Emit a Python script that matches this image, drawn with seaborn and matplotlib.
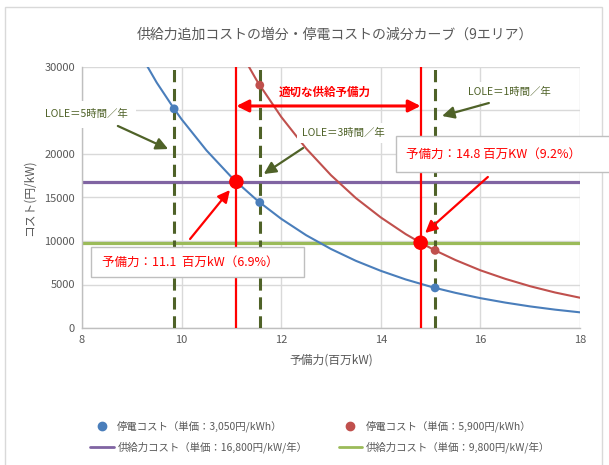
import matplotlib
matplotlib.use("Agg")
import matplotlib.pyplot as plt
from matplotlib.lines import Line2D
from matplotlib.patches import Rectangle
import seaborn as sns
import pandas as pd

# Outage-cost curves (reserve margin in GW vs. cost in yen/kW)
blue_x = [9.0, 9.5, 9.85, 10.0, 10.5, 11.0, 11.1, 11.5, 11.57, 12.0, 12.5, 13.0, 13.5,
          14.0, 14.5, 15.0, 15.09, 15.5, 16.0, 16.5, 17.0, 17.5, 18.0]
blue_cost = [33170, 28210, 25190, 23990, 20410, 17350, 16800, 14760, 14430, 12550, 10670,
             9080, 7720, 6570, 5580, 4750, 4610, 4040, 3430, 2920, 2480, 2110, 1800]
red_x = [11.0, 11.5, 11.57, 12.0, 12.5, 13.0, 13.5, 14.0, 14.5, 14.8, 15.0, 15.09, 15.5,
         16.0, 16.5, 17.0, 17.5, 18.0]
red_cost = [33560, 28540, 27910, 24270, 20640, 17560, 14930, 12710, 10790, 9800, 9190,
            8920, 7810, 6630, 5650, 4800, 4080, 3480]

# LOLE reference points
lole_x = [9.85, 11.57, 15.09]
lole_labels = ["LOLE＝5時間／年", "LOLE＝3時間／年", "LOLE＝1時間／年"]
lole_blue = [25190, 14430, 4610]
lole_red_x = [11.57, 15.09]
lole_red = [27910, 8920]

# Supply-cost levels and optimal reserve points
supply_costs = [16800, 9800]
optimal_x = [11.1, 14.8]
optimal_cost = [16800, 9800]
optimal_text = ["予備力：11.1  百万kW（6.9%）", "予備力：14.8 百万KW（9.2%）"]

# Axis ticks (the 25000 label sits under the LOLE=5 callout)
x_ticks = [8, 10, 12, 14, 16, 18]
y_ticks = [0, 5000, 10000, 15000, 20000, 25000, 30000]
y_tick_labels = ["0", "5000", "10000", "15000", "20000", "", "30000"]

series_labels = ["停電コスト（単価：3,050円/kWh）", "停電コスト（単価：5,900円/kWh）",
                 "供給力コスト（単価：16,800円/kW/年）", "供給力コスト（単価：9,800円/kW/年）"]
title = "供給力追加コストの増分・停電コストの減分カーブ（9エリア）"

BLUE = "#4a7ebb"
RED_C = "#c0504d"
PURPLE = "#8064a2"
GREEN = "#9bbb59"
OLIVE = "#4f6228"
RED = "#ff0000"
GRAY = "#595959"

sns.set_theme(style="white")
plt.rcParams["font.family"] = ["Noto Sans CJK JP", "DejaVu Sans"]

W, H = 609, 465
fig = plt.figure(figsize=(W / 100, H / 100), dpi=100)
ax = fig.add_axes([82 / W, 1 - 328 / H, (580 - 82) / W, (328 - 67) / H])


def fx(px, py):
    return (px / W, 1 - py / H)


# chart frame
fig.patches.append(Rectangle(fx(5, 470), 597 / W, 463 / H, transform=fig.transFigure,
                             facecolor="none", edgecolor="#d9d9d9", lw=1, zorder=0))

blue_df = pd.DataFrame({"x": blue_x, "cost": blue_cost})
red_df = pd.DataFrame({"x": red_x, "cost": red_cost})

sns.lineplot(data=blue_df, x="x", y="cost", color=BLUE, lw=1.5, ax=ax, sort=True, zorder=3)
sns.lineplot(data=red_df, x="x", y="cost", color=RED_C, lw=1.5, ax=ax, sort=True, zorder=3)

ax.axhline(supply_costs[0], color=PURPLE, lw=2.3, zorder=2)
ax.axhline(supply_costs[1], color=GREEN, lw=2.3, zorder=2)

for xv in lole_x:
    ax.axvline(xv, color=OLIVE, lw=2.2, linestyle=(0, (4, 2.2)), zorder=4)
for xv in optimal_x:
    ax.axvline(xv, color=RED, lw=1.6, zorder=4)

sns.scatterplot(x=lole_x, y=lole_blue, color=BLUE, s=40, edgecolor="none", ax=ax, zorder=5)
sns.scatterplot(x=lole_red_x, y=lole_red, color=RED_C, s=40, edgecolor="none", ax=ax, zorder=5)
sns.scatterplot(x=optimal_x, y=optimal_cost, color=RED, s=110, edgecolor="none", ax=ax, zorder=6)

ax.set_xlim(8, 18)
ax.set_ylim(0, 30000)
ax.set_xticks(x_ticks)
ax.set_yticks(y_ticks)
ax.set_yticklabels(y_tick_labels)
ax.grid(True, color="#d9d9d9", lw=1)
ax.set_axisbelow(True)
for s in ["top", "right"]:
    ax.spines[s].set_visible(False)
for s in ["left", "bottom"]:
    ax.spines[s].set_color("#bfbfbf")
    ax.spines[s].set_linewidth(1)
ax.tick_params(axis="both", labelsize=8, labelcolor=GRAY, colors="#bfbfbf", length=0, pad=5)
for lab in ax.get_xticklabels() + ax.get_yticklabels():
    lab.set_color(GRAY)
ax.set_xlabel("予備力(百万kW)", fontsize=8.5, color=GRAY, labelpad=6)
ax.set_ylabel("コスト(円/kW)", fontsize=8.5, color=GRAY, labelpad=6)

fig.text(*fx(335, 35), title, ha="center", va="center", fontsize=10, color=GRAY)

# LOLE labels with arrows
lole_text_pos = [(7.26, 24550), (13.24, 22400), (16.59, 27130)]
lole_ha = ["left", "center", "center"]
lole_pad = [0.8, 0.45, 0.45]
lole_tail = [(8.72, 23220), (12.44, 20690), (16.17, 25860)]
lole_head = [(9.73, 20570), (11.65, 17700), (15.23, 24370)]
for lab, tp, ha, pad, tail, head in zip(lole_labels, lole_text_pos, lole_ha, lole_pad,
                                        lole_tail, lole_head):
    ax.text(tp[0], tp[1], lab, ha=ha, va="center", fontsize=7.5, color=OLIVE, zorder=7,
            clip_on=False,
            bbox=dict(boxstyle=f"square,pad={pad}", facecolor="white", edgecolor="none"))
    ax.annotate("", xy=head, xytext=tail, zorder=8,
                arrowprops=dict(arrowstyle="-|>,head_length=0.6,head_width=0.3",
                                color=OLIVE, lw=1.6, shrinkA=0, shrinkB=0))

# appropriate reserve range
ax.annotate("", xy=(optimal_x[0], 25520), xytext=(optimal_x[1], 25520), zorder=8,
            arrowprops=dict(arrowstyle="<|-|>,head_length=0.6,head_width=0.3",
                            color=RED, lw=2.2, shrinkA=0, shrinkB=0))
ax.text(12.88, 27050, "適切な供給予備力", ha="center", va="center", fontsize=8.3,
        fontweight="bold", color=RED, zorder=8)

# optimal reserve callouts
boxes = [(91, 247, 304, 277), (396, 136, 615, 172)]
text_px = [(102, 262), (406, 154)]
tails = [(10.17, 10230), (16.15, 17360)]
heads = [(10.97, 15860), (14.89, 10920)]
for txt, (x0, y0, x1, y1), tpx, tail, head in zip(optimal_text, boxes, text_px, tails, heads):
    fig.patches.append(Rectangle(fx(x0, y1), (x1 - x0) / W, (y1 - y0) / H,
                                 transform=fig.transFigure, facecolor="white",
                                 edgecolor="#bfbfbf", lw=1, zorder=9))
    fig.text(*fx(*tpx), txt, ha="left", va="center", fontsize=9, color=RED, zorder=10)
    ax.annotate("", xy=head, xytext=tail, zorder=8,
                arrowprops=dict(arrowstyle="-|>,head_length=0.6,head_width=0.3",
                                color=RED, lw=1.6, shrinkA=0, shrinkB=0))

handles = [
    Line2D([], [], marker="o", linestyle="none", color=BLUE, markersize=6),
    Line2D([], [], color=PURPLE, lw=2),
    Line2D([], [], marker="o", linestyle="none", color=RED_C, markersize=6),
    Line2D([], [], color=GREEN, lw=2),
]
labels = [series_labels[0], series_labels[2], series_labels[1], series_labels[3]]
fig.legend(handles, labels, ncol=2, loc="center", bbox_to_anchor=fx(320, 437),
           frameon=False, fontsize=7.5, labelcolor=GRAY, handlelength=2.3,
           handletextpad=0.3, columnspacing=3.0, labelspacing=0.9)

fig.savefig("out.png", dpi=100)
